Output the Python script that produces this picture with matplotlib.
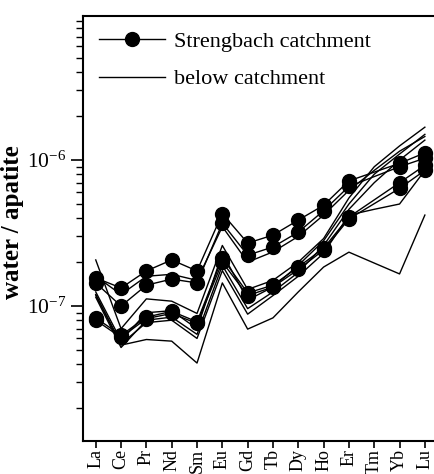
import numpy as np
import matplotlib.pyplot as plt
from matplotlib.ticker import LogLocator, NullFormatter, LogFormatterMathtext

plt.rcParams['font.family'] = ['Liberation Serif', 'DejaVu Serif']
plt.rcParams['mathtext.default'] = 'regular'

# REE order
ree = ['La', 'Ce', 'Pr', 'Nd', 'Sm', 'Eu', 'Gd', 'Tb', 'Dy', 'Ho', 'Er', 'Tm', 'Yb', 'Lu']

# Strengbach catchment (no Tm value)
s1 = [1.56e-7, 1.33e-7, 1.74e-7, 2.07e-7, 1.74e-7, 4.3e-7, 2.7e-7, 3.06e-7, 3.88e-7, 4.9e-7, 7.2e-7, None, 9.5e-7, 1.12e-6]
s2 = [1.44e-7, 1.0e-7, 1.39e-7, 1.53e-7, 1.44e-7, 3.7e-7, 2.23e-7, 2.54e-7, 3.21e-7, 4.5e-7, 6.6e-7, None, 9.0e-7, 1.03e-6]
s3 = [8.3e-8, 6.3e-8, 8.4e-8, 9.2e-8, 7.8e-8, 2.13e-7, 1.23e-7, 1.39e-7, 1.85e-7, 2.49e-7, 4.07e-7, None, 7.0e-7, 9.2e-7]
s4 = [8.0e-8, 6.1e-8, 8.2e-8, 8.9e-8, 7.6e-8, 2.0e-7, 1.18e-7, 1.35e-7, 1.78e-7, 2.42e-7, 3.95e-7, None, 6.4e-7, 8.5e-7]

# below catchment
p1 = [2.07e-7, 7.0e-8, 1.12e-7, 1.08e-7, 8.9e-8, 2.6e-7, 1.3e-7, 1.5e-7, 2.0e-7, 2.9e-7, 5.5e-7, 9.0e-7, 1.25e-6, 1.68e-6]
p2 = [1.25e-7, 5.8e-8, 9.0e-8, 9.3e-8, 7.0e-8, 2.3e-7, 1.1e-7, 1.35e-7, 1.9e-7, 2.8e-7, 5.0e-7, 8.0e-7, 1.1e-6, 1.5e-6]
p3 = [1.15e-7, 5.2e-8, 8.0e-8, 8.4e-8, 6.4e-8, 1.9e-7, 9.6e-8, 1.25e-7, 1.7e-7, 2.6e-7, 4.6e-7, 7.0e-7, 1.0e-6, 1.37e-6]
p4 = [1.2e-7, 5.5e-8, 7.7e-8, 8.0e-8, 6.0e-8, 1.75e-7, 8.8e-8, 1.18e-7, 1.6e-7, 2.3e-7, 4.2e-7, 4.6e-7, 5.0e-7, 8.5e-7]
p5 = [1.19e-7, 5.4e-8, 5.9e-8, 5.75e-8, 4.07e-8, 1.44e-7, 6.95e-8, 8.3e-8, 1.25e-7, 1.85e-7, 2.34e-7, 1.97e-7, 1.66e-7, 4.2e-7]
p6 = [1.6e-7, 1.2e-7, 1.6e-7, 1.65e-7, 1.5e-7, 3.5e-7, 2.0e-7, 2.35e-7, 3.0e-7, 4.2e-7, 6.2e-7, 8.5e-7, 1.15e-6, 1.45e-6]

strengbach = [s1, s2, s3, s4]
below = [p1, p2, p3, p4, p5, p6]

fig = plt.figure(figsize=(4.35, 4.74), dpi=100)
ax = fig.add_axes([0.191, 0.0696, 0.809, 0.8966])

x = np.arange(len(ree))

for i, p in enumerate(below):
    ax.plot(x, p, 'k-', lw=1.0, label='below catchment' if i == 0 else None)

for i, s in enumerate(strengbach):
    xs = [x[k] for k in range(len(s)) if s[k] is not None]
    ys = [v for v in s if v is not None]
    ax.plot(xs, ys, 'k-', lw=1.0, marker='o', ms=10,
            label='Strengbach catchment' if i == 0 else None)

ax.set_yscale('log')
ax.set_xlim(-0.5, 13.4)
ax.set_ylim(1.19e-8, 9.7e-6)

ax.set_xticks(x)
ax.set_xticklabels(ree, rotation=90, fontsize=13)
ax.yaxis.set_major_locator(LogLocator(base=10))
ax.yaxis.set_major_formatter(LogFormatterMathtext())
ax.yaxis.set_minor_locator(LogLocator(base=10, subs=np.arange(2, 10)))
ax.yaxis.set_minor_formatter(NullFormatter())
ax.tick_params(axis='y', which='major', direction='out', length=9, width=1.2, labelsize=15.5, pad=3)
ax.tick_params(axis='y', which='minor', direction='out', length=5, width=1.0)
ax.tick_params(axis='x', direction='out', length=5, width=1.2, pad=1)

ax.spines['right'].set_visible(False)
for sp in ['left', 'bottom', 'top']:
    ax.spines[sp].set_linewidth(1.5)

ax.set_ylabel('water / apatite', fontsize=18, fontweight='bold')
ax.yaxis.set_label_coords(-0.168, 0.515)

handles, labels = ax.get_legend_handles_labels()
ax.legend(handles[::-1], labels[::-1], loc='upper left', frameon=False, fontsize=16,
          handlelength=3.0, labelspacing=0.75, handletextpad=0.4, borderaxespad=0.3)

fig.savefig('out.png', dpi=100)
